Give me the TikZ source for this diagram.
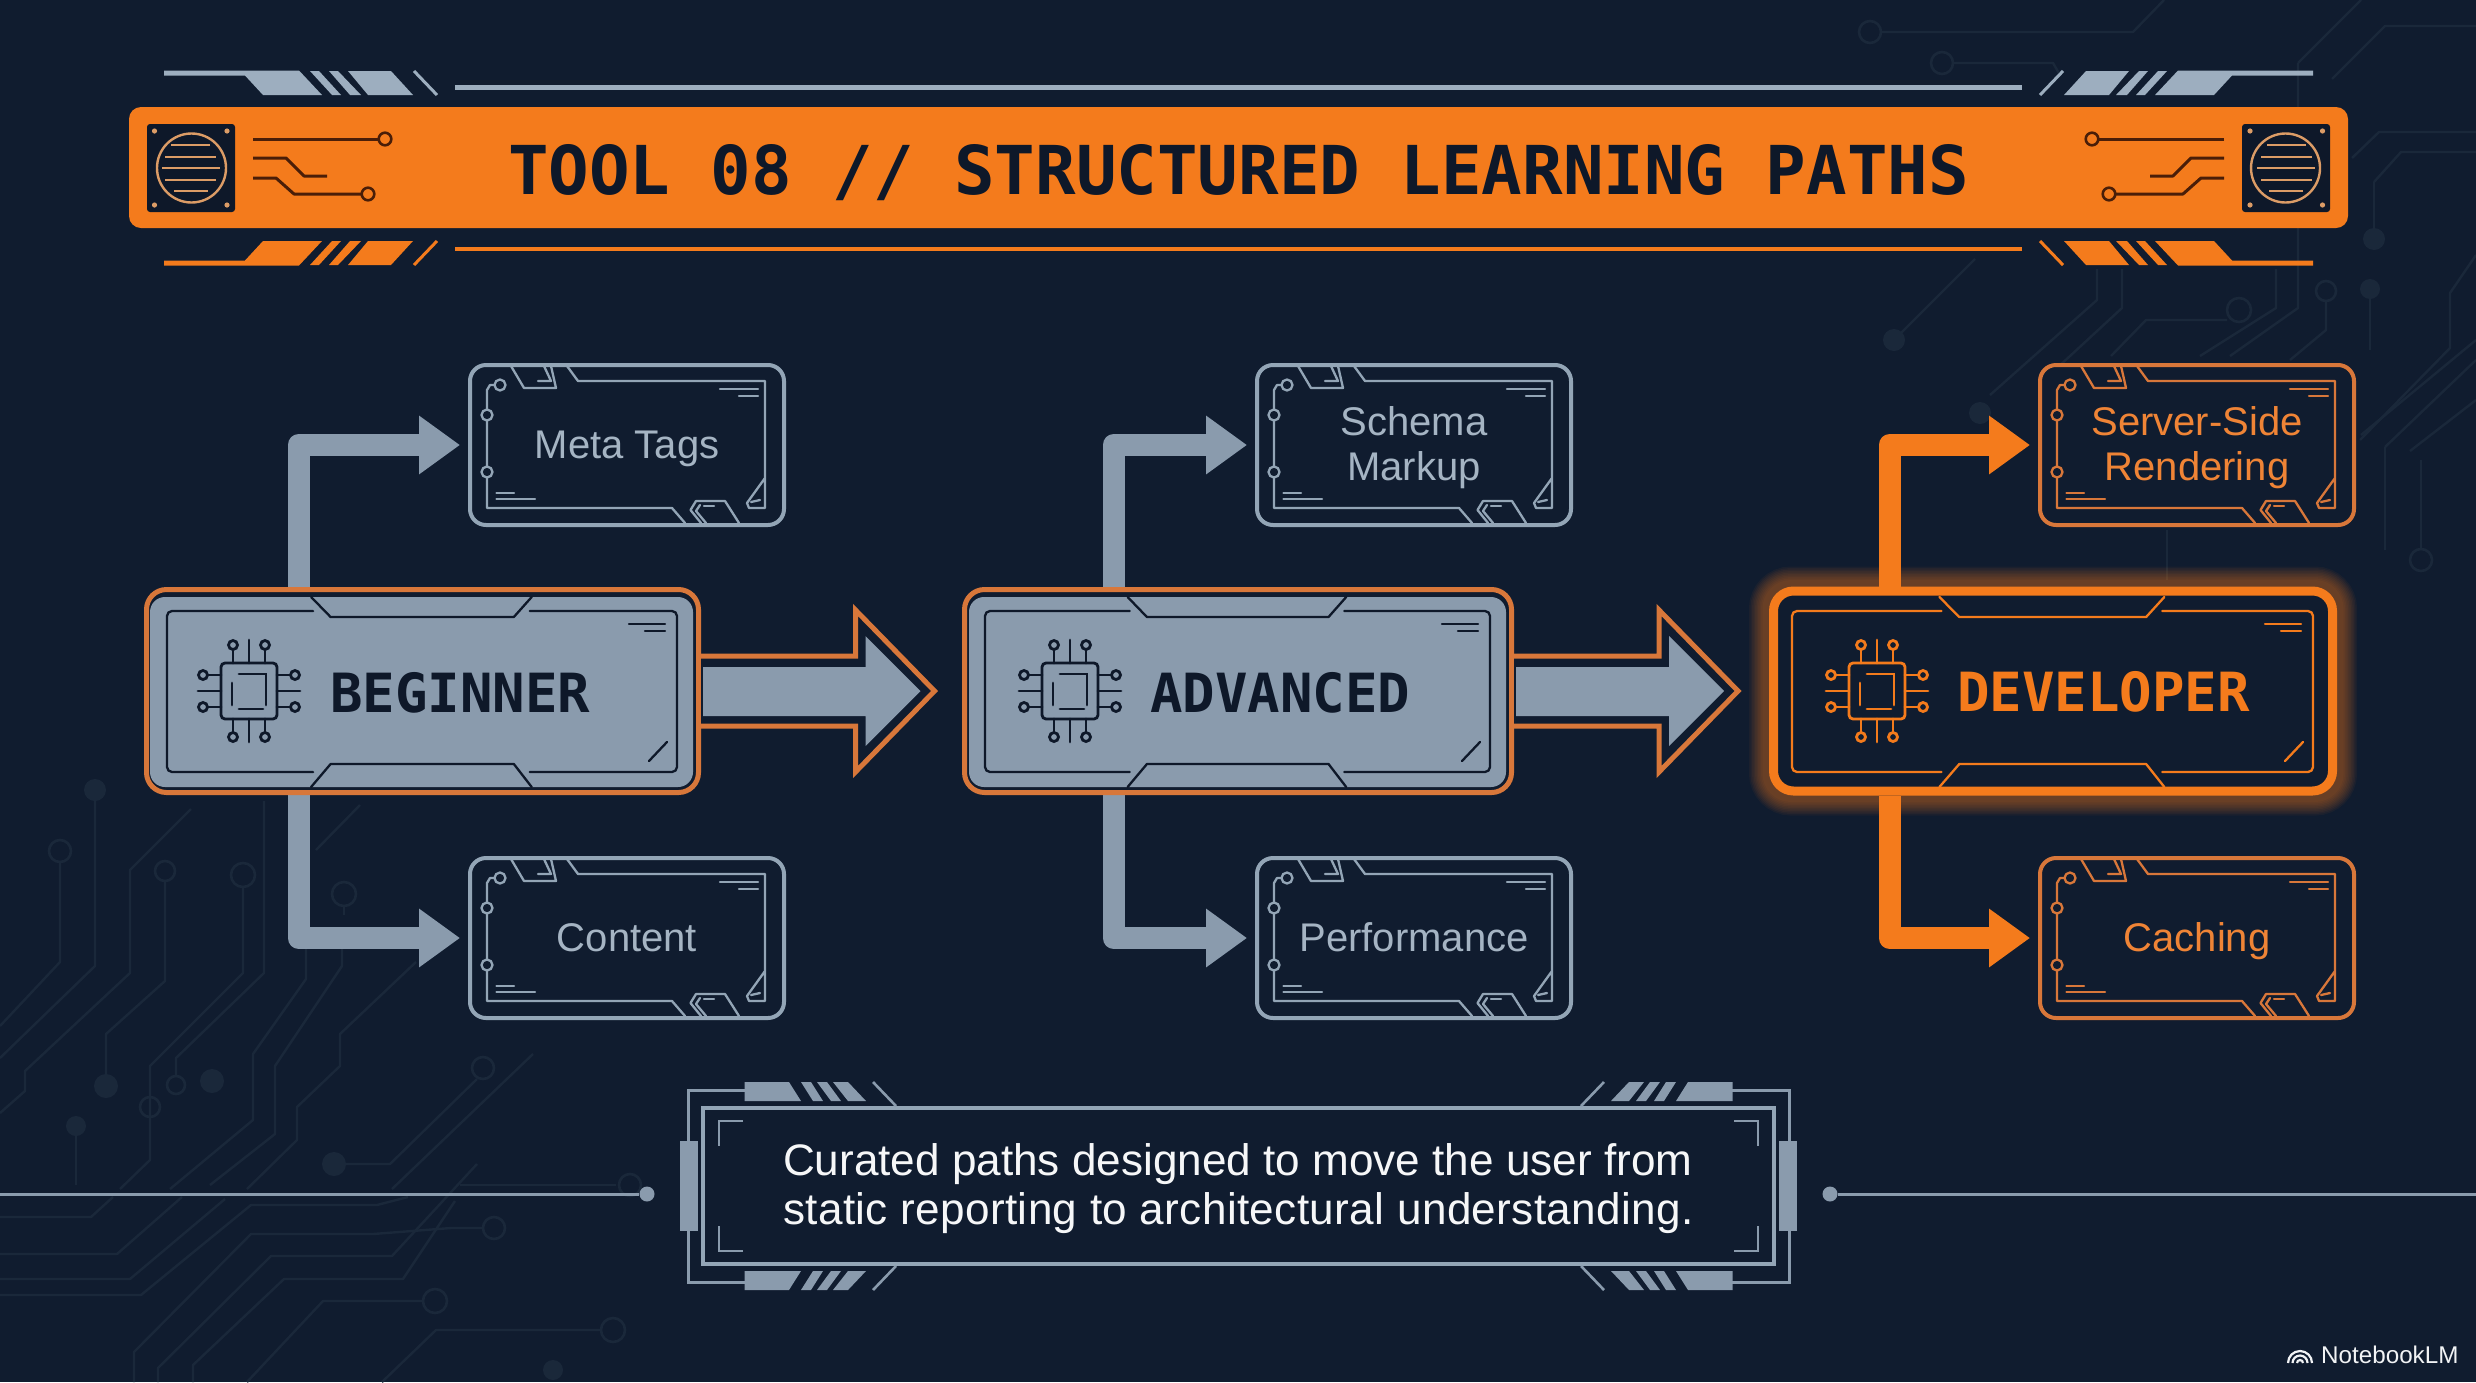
\documentclass[tikz,border=0pt]{standalone}
\usepackage{fontspec}
\setmainfont{Liberation Sans}
\newfontfamily\monof{DejaVu Sans Mono}
\usetikzlibrary{arrows.meta,calc}
\definecolor{bgc}{HTML}{101C2F}
\definecolor{gr}{HTML}{8A9BAD}
\definecolor{grl}{HTML}{93A5B6}
\definecolor{grh}{HTML}{9DAEBF}
\definecolor{orn}{HTML}{F47B1C}
\definecolor{morn}{HTML}{D8773A}
\definecolor{drk}{HTML}{0E1829}
\definecolor{trc}{HTML}{1A283A}
\definecolor{tan}{HTML}{DC9C66}
\definecolor{brn}{HTML}{4A1E08}
\definecolor{txg}{HTML}{A5B4C3}
\definecolor{txo}{HTML}{EF8436}
\pgfdeclarelayer{bglayer}
\pgfdeclarelayer{connlayer}
\pgfsetlayers{bglayer,connlayer,main}
\tikzset{
  trace/.style={draw=trc,line width=2.4pt,line join=round},
  tdot/.style={fill=trc},
  tring/.style={draw=trc,line width=2.6pt},
  thinline/.style={line width=2.3pt,line join=round,line cap=round},
  connector/.style={line width=22pt,line join=round,shorten >=8pt,-{Triangle[length=41pt,width=56pt]}},
  smallbox/.style={draw=#1,fill=bgc,line width=4pt,rounded corners=16pt,minimum width=314pt,minimum height=160pt,inner sep=0pt,align=center,font=\fontsize{40}{45}\selectfont},
  mainbox/.style={fill=bgc,rounded corners=20pt,inner sep=0pt},
  biglabel/.style={anchor=base west,inner sep=0pt,font=\monof\bfseries\fontsize{54}{54}\selectfont},
}
\newcommand{\lb}{\rule[-9.5pt]{0pt}{45pt}}
% small box ornaments
\newcommand{\smalldetail}[3]{%
 \begin{scope}[shift={(#1,#2)},draw=#3,thinline]
  \draw (26.5,22) -- (22,22) -- (19,27) -- (19,145) -- (204,145) -- (217,160);
  \draw (99,3) -- (110,18) -- (297,18) -- (297,145) -- (281,145) -- (279,140) -- (297,115);
  \draw (43,3) -- (56,25) -- (88,25) -- (83,3);
  \draw (76,3) -- (83,18) -- (70,18);
  \draw (271,160) -- (257,138) -- (228,138) -- (222.5,147) -- (233,160);
  \draw (232,142) -- (228,148) -- (238,160);
  \draw (236,143) -- (246,143);
  \draw (252,26) -- (290,26); \draw (271,33) -- (290,33);
  \draw (28.5,130) -- (46,130); \draw (28.5,136) -- (67,136);
  \draw (283,139) -- (292,137);
  \draw[fill=bgc] (32,22) circle (5.5);
  \draw[fill=bgc] (19,52) circle (5.5);
  \draw[fill=bgc] (19,109) circle (5.5);
 \end{scope}}
% main box ornaments
\newcommand{\maindetail}[3]{%
 \pgfmathsetmacro{\pL}{#1}\pgfmathsetmacro{\pR}{#2}
 \pgfmathsetmacro{\pW}{\pR-\pL}
 \pgfmathsetmacro{\tA}{\pL+0.3*\pW}\pgfmathsetmacro{\tB}{\pL+0.335*\pW}
 \pgfmathsetmacro{\tC}{\pL+0.664*\pW}\pgfmathsetmacro{\tD}{\pL+0.696*\pW}
 \pgfmathsetmacro{\iL}{\pL+23}\pgfmathsetmacro{\iR}{\pR-24}
 \begin{scope}[draw=#3,thinline]
  \draw (\tA,597) -- (\tB,617) -- (\tC,617) -- (\tD,597);
  \draw (\tA,787) -- (\tB,764) -- (\tC,764) -- (\tD,787);
  \draw[rounded corners=5pt] (\tA+2,611) -- (\iL,611) -- (\iL,772) -- (\tA+2,772);
  \draw[rounded corners=5pt] (\tD-2,611) -- (\iR,611) -- (\iR,772) -- (\tD-2,772);
  \draw (\iR-48,624) -- (\iR-12,624); \draw (\iR-32,631) -- (\iR-12,631);
  \draw (\iR-28,761) -- (\iR-10,742);
 \end{scope}}
% chip icon
\newcommand{\chipicon}[3]{%
 \begin{scope}[shift={(#1,#2)},draw=#3,line width=2.8pt,line cap=round]
  \draw[rounded corners=4pt] (-28,-28) rectangle (28,28);
  \draw (-10,-17) -- (17,-17) -- (17,14);
  \draw (-17,-8) -- (-17,14);
  \draw (-10,18) -- (14,18);
  \foreach \s in {-16,16}{
   \draw (\s,-28) -- (\s,-41); \draw (\s,-46) circle (4.5);
   \draw (\s,28) -- (\s,41);  \draw (\s,46) circle (4.5);
   \draw (-28,\s) -- (-41,\s); \draw (-46,\s) circle (4.5);
   \draw (28,\s) -- (41,\s);  \draw (46,\s) circle (4.5);
  }
  \draw (0,-28) -- (0,-51); \draw (0,28) -- (0,51);
  \draw (-28,0) -- (-51,0); \draw (28,0) -- (51,0);
 \end{scope}}
% fan + circuit on title bar
\newcommand{\fanpart}{%
  \fill[drk,rounded corners=3pt] (147,124) rectangle (235,212);
  \draw[tan,line width=2.4pt] (191.5,168) circle (34.5);
  \foreach \ya/\xa/\xb in {145/171/210,157/165/216,168/162/220,180/165/216,191/174/208}
    \draw[tan,line width=2.6pt] (\xa,\ya) -- (\xb,\ya);
  \foreach \xa/\ya in {154.5/131,227/131,154.5/205,227/205}
    \fill[tan] (\xa,\ya) circle (2.6);
  \draw[brn,line width=3pt] (253,139) -- (378.5,139);
  \draw[brn,line width=2.6pt] (385,139) circle (6.3);
  \draw[brn,line width=3pt,line join=round] (253,158) -- (286,158) -- (304,176) -- (327,176);
  \draw[brn,line width=3pt,line join=round] (253,178) -- (276,178) -- (294,194) -- (361.5,194);
  \draw[brn,line width=2.6pt] (368,194) circle (6.3);
}
% striped ornaments above the title bar
\newcommand{\hudpart}[1]{%
  \fill[#1] (164,70.5) -- (243,70.5) -- (299,70.5) -- (322,95) -- (263,95) -- (245,75.5) -- (164,75.5) -- cycle;
  \fill[#1] (310,71) -- (319,71) -- (341,95) -- (332,95) -- cycle;
  \fill[#1] (329,71) -- (338,71) -- (361,95) -- (350,95) -- cycle;
  \fill[#1] (348,71) -- (391,71) -- (413,95) -- (368,95) -- cycle;
  \draw[#1,line width=3pt] (414,71) -- (437,95);
  \fill[#1] (455,85) rectangle (1238.5,89.5);
}
% note panel corner ornament
\newcommand{\notepart}{%
  \fill[gr] (744.5,1082) -- (789,1082) -- (801,1101) -- (744.5,1101) -- cycle;
  \fill[gr] (801,1082) -- (811,1082) -- (823,1101) -- (813,1101) -- cycle;
  \fill[gr] (817,1082) -- (827,1082) -- (841,1101) -- (831,1101) -- cycle;
  \fill[gr] (833,1082) -- (848,1082) -- (866,1101) -- (848,1101) -- cycle;
  \draw[gr,line width=2.6pt] (873,1082) -- (896,1106);
  \draw[gr,line width=3pt] (745,1090) -- (688,1090) -- (688,1186);
  \fill[gr] (680,1141) rectangle (698,1186);
  \draw[gr,line width=2.6pt] (719,1146) -- (719,1121) -- (743,1121);
}
% large arrow between levels
\newcommand{\bigarrow}[3]{%
  \draw[morn,fill=bgc,line width=5pt,miter limit=10]
    ($(#1.east)+(0,-35)$) -- ($(#2.west)+(-#3-79,-35)$) -- ($(#2.west)+(-#3-79,-81)$)
    -- ($(#2.west)+(-#3,0)$) -- ($(#2.west)+(-#3-79,81)$) -- ($(#2.west)+(-#3-79,35)$) -- ($(#1.east)+(0,35)$);
  \fill[gr]
    ($(#1.east)+(2,-24)$) -- ($(#2.west)+(-#3-69,-24)$) -- ($(#2.west)+(-#3-69,-55)$)
    -- ($(#2.west)+(-#3-14,0)$) -- ($(#2.west)+(-#3-69,55)$) -- ($(#2.west)+(-#3-69,25)$) -- ($(#1.east)+(2,25)$) -- cycle;
}
\begin{document}
\begin{tikzpicture}[x=1pt,y=-1pt]
\useasboundingbox (0,0) rectangle (2476,1382);
%================ background
\begin{pgfonlayer}{bglayer}
\fill[bgc] (0,0) rectangle (2476,1382);
% lower left traces
\draw[trace] (95,790) -- (95,966) -- (0,1058);
\draw[trace] (60,862) -- (60,962) -- (0,1026);
\draw[trace] (191,809) -- (130,870) -- (130,973) -- (25,1071) -- (25,1091) -- (0,1113);
\draw[trace] (165,881) -- (165,981) -- (106,1034) -- (106,1080);
\draw[trace] (243,887) -- (243,973) -- (150,1066) -- (150,1160) -- (120,1189);
\draw[trace] (264,801) -- (264,973) -- (176,1058) -- (176,1076);
\draw[trace] (306,948) -- (306,979) -- (253,1054) -- (253,1120) -- (170,1189);
\draw[trace] (342,948) -- (342,966) -- (275,1066) -- (275,1134) -- (210,1185);
\draw[trace] (416,962) -- (340,1034) -- (340,1066) -- (297,1107) -- (297,1140) -- (247,1189);
\draw[trace] (316,850) -- (360,805);
\draw[trace] (344,906) -- (344,915);
\draw[trace] (76,1126) -- (76,1185);
\draw[trace] (0,1217) -- (91,1217) -- (113,1197);
\draw[trace] (0,1254) -- (117,1254) -- (182,1197);
\draw[trace] (0,1279) -- (130,1279) -- (225,1199);
\draw[trace] (0,1295) -- (141,1295) -- (251,1205) -- (377,1205) -- (408,1197);
\draw[trace] (134,1382) -- (134,1352) -- (251,1234) -- (373,1234) -- (451,1228) -- (483,1228);
\draw[trace] (158,1382) -- (158,1368) -- (271,1256) -- (392,1256) -- (477,1164);
\draw[trace] (193,1382) -- (193,1365) -- (284,1279) -- (403,1279) -- (455,1201);
\draw[trace] (247,1382) -- (323,1301) -- (423,1301);
\draw[trace] (382,1382) -- (436,1330) -- (600,1330);
\draw[trace] (334,1164) -- (390,1164) -- (477,1079);
\draw[trace] (392,1189) -- (533,1054);
\draw[trace] (460,1185) -- (616,1185);
\fill[tdot] (95,790) circle (11) (106,1086) circle (12) (212,1081) circle (12) (76,1126) circle (10) (334,1164) circle (12) (553,1370) circle (10);
\draw[tring] (60,851) circle (11) (165,871) circle (10) (243,875) circle (12) (344,894) circle (12) (150,1107) circle (10) (176,1085) circle (9) (494,1228) circle (11) (435,1301) circle (12) (613,1330) circle (12) (483,1068) circle (11) (630,1185) circle (11);
% upper right traces
\draw[trace] (1881,32) -- (2133,32) -- (2164,0);
\draw[trace] (1953,63) -- (2053,63) -- (2060,75);
\draw[trace] (2298,63) -- (2361,0);
\draw[trace] (2298,63) -- (2298,308) -- (2230,356);
\draw[trace] (2332,79) -- (2385,26) -- (2476,26);
\draw[trace] (2352,158) -- (2379,132) -- (2476,132);
\draw[trace] (2374,182) -- (2401,152) -- (2476,152);
\draw[trace] (2374,182) -- (2374,239);
\draw[trace] (1894,340) -- (1975,259);
\draw[trace] (2097,269) -- (2097,300) -- (1990,395);
\draw[trace] (2122,269) -- (2122,308) -- (2044,380);
\draw[trace] (2227,320) -- (2178,320) -- (2146,320) -- (2111,356);
\draw[trace] (2276,269) -- (2276,308) -- (2200,356);
\draw[trace] (2326,301) -- (2326,330) -- (2290,360);
\draw[trace] (2370,289) -- (2370,350);
\draw[trace] (2476,255) -- (2450,293) -- (2450,348) -- (2360,440);
\draw[trace] (2361,435) -- (2476,340);
\draw[trace] (2385,447) -- (2476,360);
\draw[trace] (2385,447) -- (2385,550);
\draw[trace] (2410,451) -- (2476,400);
\draw[trace] (2421,460) -- (2421,548);
\draw[trace] (2167,530) -- (2167,580);
\fill[tdot] (2374,239) circle (11) (2370,289) circle (10) (1894,340) circle (11) (1980,413) circle (11);
\draw[tring] (1870,32) circle (11) (1942,63) circle (11) (2326,291) circle (10) (2239,310) circle (12) (2421,560) circle (11);
\end{pgfonlayer}
%================ header
\node[fill=orn,rounded corners=12pt,minimum width=2219pt,minimum height=121pt,inner sep=0pt,text=drk,
      font=\monof\bfseries\fontsize{67.4}{70}\selectfont] (title) at (1238.5,167.5)
      {\rule[-5pt]{0pt}{65pt}TOOL 08 // STRUCTURED LEARNING PATHS};
\fanpart
\begin{scope}[xshift=2477pt,xscale=-1]\fanpart\end{scope}
\hudpart{grh}
\begin{scope}[xshift=2477pt,xscale=-1]\hudpart{grh}\end{scope}
\begin{scope}[yshift=-336pt,yscale=-1]\hudpart{orn}\end{scope}
\begin{scope}[xshift=2477pt,xscale=-1,yshift=-336pt,yscale=-1]\hudpart{orn}\end{scope}
%================ main boxes
\node[mainbox,draw=morn,line width=5pt,minimum width=552pt,minimum height=203pt] (beginner) at (422.5,691) {};
\fill[gr,rounded corners=15pt] (150,597) rectangle (693,787);
\maindetail{144}{701}{drk}
\chipicon{249}{691}{drk}
\node[biglabel,text=drk] (beginnerlabel) at (330,712) {BEGINNER};

\node[mainbox,draw=morn,line width=5pt,minimum width=547pt,minimum height=203pt] (advanced) at (1238,691) {};
\fill[gr,rounded corners=15pt] (969,597) rectangle (1506,787);
\maindetail{962}{1514}{drk}
\chipicon{1070}{691}{drk}
\node[biglabel,text=drk] (advancedlabel) at (1150,712) {ADVANCED};

\node[mainbox,draw=orn,line width=9pt,minimum width=559pt,minimum height=200pt] (developer) at (2053,691) {};
\maindetail{1769}{2337}{orn}
\chipicon{1877}{691}{orn}
\node[biglabel,text=orn] (developerlabel) at (1957,711) {DEVELOPER};
%================ small boxes
\node[smallbox=grl,text=txg] (metatags) at (627,445) {\lb Meta Tags};
\smalldetail{468}{363}{grl}
\node[smallbox=grl,text=txg] (content) at (627,938) {\lb Content};
\smalldetail{468}{856}{grl}
\node[smallbox=grl,text=txg] (schema) at (1414,445) {\lb Schema\\\lb Markup};
\smalldetail{1255}{363}{grl}
\node[smallbox=grl,text=txg] (performance) at (1414,938) {\lb Performance};
\smalldetail{1255}{856}{grl}
\node[smallbox=morn,text=txo] (ssr) at (2197,445) {\lb Server-Side\\\lb Rendering};
\smalldetail{2038}{363}{morn}
\node[smallbox=morn,text=txo] (caching) at (2197,938) {\lb Caching};
\smalldetail{2038}{856}{morn}
%================ connectors
\begin{pgfonlayer}{connlayer}
\foreach \g in {40,37,34,31,28,25,22,19,16,13}
  \draw[orn,opacity=.05,line width=\g pt,rounded corners=22pt] (developer.north west) rectangle (developer.south east);
\draw[connector,draw=gr] ($(beginner.north west)+(154.5,0)$) |- (metatags.west);
\draw[connector,draw=gr] ($(beginner.south west)+(154.5,0)$) |- (content.west);
\draw[connector,draw=gr] ($(advanced.north west)+(151.5,0)$) |- (schema.west);
\draw[connector,draw=gr] ($(advanced.south west)+(151.5,0)$) |- (performance.west);
\draw[connector,draw=orn] ($(developer.north west)+(120.5,0)$) |- (ssr.west);
\draw[connector,draw=orn] ($(developer.south west)+(120.5,0)$) |- (caching.west);
\end{pgfonlayer}
\bigarrow{beginner}{advanced}{27.5}
\bigarrow{advanced}{developer}{31}
%================ note panel
\draw[grl,line width=4pt] (703,1108) rectangle (1774,1264);
\node[inner sep=0pt,minimum width=1071pt,minimum height=156pt,text=white!92!gr,align=left,font=\fontsize{44.1}{49}\selectfont] (note) at (1238.5,1186)
  {\rule[-11pt]{0pt}{49pt}Curated paths designed to move the user from\\\rule[-11pt]{0pt}{49pt}\addfontfeature{LetterSpace=0.85}static reporting to architectural understanding.};
\notepart
\begin{scope}[xshift=2477pt,xscale=-1]\notepart\end{scope}
\begin{scope}[yshift=-2372pt,yscale=-1]\notepart\end{scope}
\begin{scope}[xshift=2477pt,xscale=-1,yshift=-2372pt,yscale=-1]\notepart\end{scope}
% side lines with end dots
\coordinate (leftend) at (0,1194);
\coordinate (rightend) at (2476,1194);
\node[circle,fill=gr,minimum size=15pt,inner sep=0pt] (dotl) at (647,1194) {};
\node[circle,fill=gr,minimum size=15pt,inner sep=0pt] (dotr) at (1830,1194) {};
\draw[gr,line width=3pt] (leftend) -- (dotl);
\draw[gr,line width=3pt] (dotr) -- (rightend);
%================ watermark
\node[anchor=base west,inner sep=0pt,text=white!88!gr,font=\fontsize{24.2}{26}\selectfont] (brand) at (2321,1363) {NotebookLM};
\begin{scope}[draw=white!88!gr,line width=2.2pt]
 \draw (2288,1363) arc (180:360:12);
 \draw (2292.5,1363) arc (180:360:7.5);
 \draw (2297,1363) arc (180:360:3);
\end{scope}
\end{tikzpicture}
\end{document}
